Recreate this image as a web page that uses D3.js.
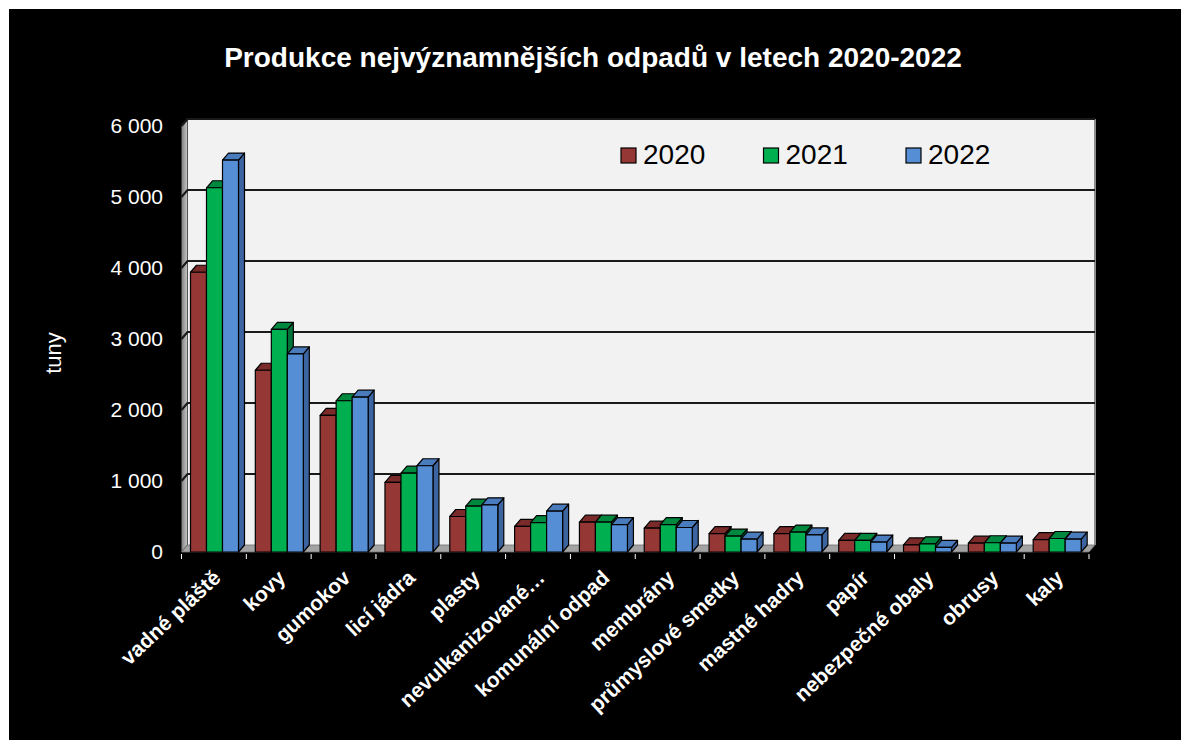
<!DOCTYPE html>
<html><head><meta charset="utf-8">
<script src="https://cdn.jsdelivr.net/npm/d3@7"></script>
<style>body{margin:0;background:#fff;}svg{display:block;}</style>
</head><body>
<script>
const categories = ["vadné pláště","kovy","gumokov","licí jádra","plasty","nevulkanizované…","komunální odpad","membrány","průmyslové smetky","mastné hadry","papír","nebezpečné obaly","obrusy","kaly"];
const years = ["2020","2021","2022"];
const v2020 = [3940, 2560, 1925, 980, 500, 360, 420, 335, 260, 260, 165, 100, 125, 175];
const v2021 = [5130, 3135, 2130, 1110, 645, 415, 420, 385, 225, 280, 165, 115, 130, 190];
const v2022 = [5520, 2790, 2180, 1215, 665, 575, 385, 345, 180, 240, 140, 65, 125, 180];
const yTicks = [0,1000,2000,3000,4000,5000,6000];
const title = "Produkce nejvýznamnějších odpadů v letech 2020-2022";
const yLabel = "tuny";

const series = [v2020, v2021, v2022];
const front = ["#953735","#00b050","#558ed5"];
const top_ = ["#7a2b29","#00883f","#4a7bbd"];
const side = ["#6a2321","#00733a","#3c64a0"];

const W = 1181, H = 740;
const DX = 6, DY = -7;
const svg = d3.select("body").append("svg").attr("width", W).attr("height", H);
svg.append("rect").attr("x",9).attr("y",9).attr("width",W-9).attr("height",H-9).attr("fill","#000");

const x = d3.scaleBand().domain(categories).range([181.5, 1089]).paddingInner(0).paddingOuter(0);
const xi = d3.scaleBand().domain(years).range([9, 57]);
const y = d3.scaleLinear().domain([0,6000]).range([552,126]);

const x0 = x.range()[0], x1 = x.range()[1];
const fmt = v => d3.format(",")(v).replace(/,/g," ");

const defs = svg.append("defs");
const lg = defs.append("linearGradient").attr("id","lw").attr("x1","0").attr("x2","1").attr("y1","0").attr("y2","0");
lg.append("stop").attr("offset","0").attr("stop-color","#7f7f7f");
lg.append("stop").attr("offset","1").attr("stop-color","#c8c8c8");

svg.append("polygon")
  .attr("points", [[x0+DX, y(6000)+DY],[x1+DX, y(6000)+DY],[x1+DX, y(0)+DY],[x0+DX, y(0)+DY]].join(" "))
  .attr("fill","#f2f2f2");
svg.append("line").attr("x1",x1+DX).attr("x2",x1+DX).attr("y1",y(6000)+DY).attr("y2",y(0)+DY)
  .attr("stroke","#8c8c8c").attr("stroke-width",2);
svg.append("polygon")
  .attr("points", [[x0, y(0)],[x0, y(6000)],[x0+DX, y(6000)+DY],[x0+DX, y(0)+DY]].join(" "))
  .attr("fill","url(#lw)").attr("stroke","#404040").attr("stroke-width",0.8);
svg.append("polygon")
  .attr("points", [[x0, y(0)],[x1, y(0)],[x1+DX, y(0)+DY],[x0+DX, y(0)+DY]].join(" "))
  .attr("fill","#a3a3a3").attr("stroke","#6e6e6e").attr("stroke-width",0.8);

const grid = svg.append("g");
yTicks.filter(t => t>0).forEach(t => {
  grid.append("path")
    .attr("d", `M${x0},${y(t)}L${x0+DX},${y(t)+DY}L${x1+DX},${y(t)+DY}`)
    .attr("fill","none").attr("stroke","#1a1a1a").attr("stroke-width",2.2);
});

svg.append("g").selectAll("text").data(yTicks).join("text")
  .attr("x",163).attr("y",d=>y(d)).attr("dy","0.35em").attr("text-anchor","end")
  .attr("fill","#fff").attr("font-family","Arial, 'Liberation Sans', sans-serif").attr("font-size",21)
  .text(fmt);

svg.append("g").selectAll("line").data(d3.range(categories.length+1)).join("line")
  .attr("x1", i => x0 + i*x.bandwidth()).attr("x2", i => x0 + i*x.bandwidth())
  .attr("y1", 554).attr("y2", 559).attr("stroke","#fff").attr("stroke-width",1);

const bars = svg.append("g").attr("stroke","#000").attr("stroke-width",1.2).attr("stroke-linejoin","round");
categories.forEach((c, ci) => {
  years.forEach((yr, si) => {
    const v = series[si][ci];
    const bx = x(c) + xi(yr), bw = xi.bandwidth();
    const by = y(v), b0 = y(0);
    const g = bars.append("g");
    g.append("polygon").attr("points", [[bx+bw, b0],[bx+bw, by],[bx+bw+DX, by+DY],[bx+bw+DX, b0+DY]].join(" ")).attr("fill", side[si]);
    g.append("polygon").attr("points", [[bx, by],[bx+bw, by],[bx+bw+DX, by+DY],[bx+DX, by+DY]].join(" ")).attr("fill", top_[si]);
    g.append("rect").attr("x", bx).attr("y", by).attr("width", bw).attr("height", b0-by).attr("fill", front[si]);
  });
});

svg.append("g").selectAll("text").data(categories).join("text")
  .attr("transform", d => `translate(${x(d)+x.bandwidth()/2+3},574) rotate(-43)`)
  .attr("text-anchor","end").attr("dominant-baseline","central")
  .attr("fill","#fff").attr("font-family","Arial, 'Liberation Sans', sans-serif").attr("font-weight","bold").attr("font-size",21)
  .text(d=>d);

svg.append("text").attr("x",593).attr("y",67).attr("text-anchor","middle")
  .attr("fill","#fff").attr("font-family","Arial, 'Liberation Sans', sans-serif").attr("font-weight","bold").attr("font-size",28)
  .text(title);

svg.append("text").attr("transform","translate(61,353) rotate(-90)").attr("text-anchor","middle")
  .attr("fill","#fff").attr("font-family","Arial, 'Liberation Sans', sans-serif").attr("font-size",22)
  .text(yLabel);

const leg = svg.append("g").selectAll("g").data(years).join("g")
  .attr("transform", (d,i) => `translate(${621 + i*142.5},148)`);
leg.append("rect").attr("width",15).attr("height",15).attr("fill",(d,i)=>front[i]).attr("stroke","#000").attr("stroke-width",1.2);
leg.append("text").attr("x",22).attr("y",15.5).attr("fill","#000")
  .attr("font-family","Arial, 'Liberation Sans', sans-serif").attr("font-size",28).text(d=>d);
</script>
</body></html>
